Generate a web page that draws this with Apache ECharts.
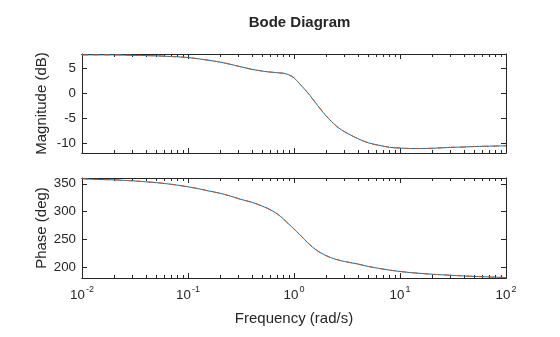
<!DOCTYPE html>
<html><head><meta charset="utf-8">
<script src="https://cdn.jsdelivr.net/npm/echarts@6/dist/echarts.min.js"></script>
<style>html,body{margin:0;padding:0;background:#fff}#c{width:560px;height:337px}</style>
</head><body><div id="c"></div>
<script>
// Frequency samples (rad/s)
const freq = [0.01,0.0126,0.0158,0.02,0.0251,0.0316,0.0398,0.0501,0.0631,0.0794,
  0.1,0.126,0.158,0.2,0.251,0.316,0.398,0.501,0.562,0.631,0.708,0.794,0.891,
  1,1.12,1.26,1.41,1.58,1.78,2.0,2.24,2.51,2.82,3.16,3.98,5.01,6.31,7.94,
  10,12.6,15.8,20,25.1,31.6,39.8,50.1,63.1,79.4,100];
// Magnitude (dB)
const magnitude = [7.7,7.7,7.7,7.7,7.65,7.6,7.55,7.5,7.4,7.3,
  7.15,6.9,6.6,6.25,5.8,5.3,4.8,4.45,4.3,4.2,4.1,4.0,3.7,
  3.1,2.0,0.8,-0.4,-1.8,-3.2,-4.5,-5.6,-6.6,-7.4,-8.0,-9.1,-9.95,-10.45,-10.85,
  -11.0,-11.1,-11.1,-11.05,-10.95,-10.85,-10.8,-10.7,-10.65,-10.6,-10.55];
// Phase (deg)
const phase = [359,358,357.5,357,356,355,353.5,352,350,347.5,
  344.5,341,337,333,328,322,317,310,306,301,295,287,278,
  269,260,250,241,233,226.5,221.5,217.5,214.5,212,210,206.4,202,198.5,195.5,
  193,191,189.5,188,187,186,185,184.2,183.5,182.8,182.2];
// Tick positions
const decadeTicks = [0.01,0.1,1,10,100];
const minorTicks = [];
[0.01,0.1,1,10].forEach(d => { for (let k = 2; k <= 9; k++) minorTicks.push(+(k*d).toPrecision(3)); });
const magTicks = [-10,-5,0,5];
const phaseTicks = [200,250,300,350];

const TXT = '#262626';
const FONT = 'Liberation Sans, Arial, sans-serif';
const magRange = [-12, 7.87];
const phaseRange = [181.3, 360.3];

function xAx(grid, pos, ticks, len, labels) {
  return {
    type: 'log', logBase: 10, gridIndex: grid, position: pos, min: 0.01, max: 100,
    axisLine: {show: true, onZero: false, lineStyle: {color: TXT, width: 1}},
    axisTick: {show: true, inside: true, length: len, customValues: ticks, lineStyle: {color: TXT, width: 1}},
    axisLabel: labels ? {
      show: true, customValues: decadeTicks, margin: 7, color: TXT, fontFamily: FONT,
      formatter: v => '{b|10}{s|' + Math.round(Math.log10(v)) + '}',
      rich: {b: {fontSize: 13.3, fontFamily: FONT, color: TXT, verticalAlign: 'bottom', lineHeight: 17},
             s: {fontSize: 9, fontFamily: FONT, color: TXT, verticalAlign: 'top', lineHeight: 17, padding: [0,0,0,1]}}
    } : {show: false},
    splitLine: {show: false}, minorTick: {show: false},
    name: labels ? 'Frequency (rad/s)' : '', nameLocation: 'middle', nameGap: 33, nameMoveOverlap: false,
    nameTextStyle: {fontSize: 15, color: TXT, fontFamily: FONT}
  };
}
function yAx(grid, pos, range, ticks, name) {
  const left = pos === 'left';
  return {
    type: 'value', gridIndex: grid, position: pos, min: range[0], max: range[1],
    axisLine: {show: true, onZero: false, lineStyle: {color: TXT, width: 1}},
    axisTick: {show: true, inside: true, length: 5, customValues: ticks, lineStyle: {color: TXT, width: 1}},
    axisLabel: left ? {show: true, customValues: ticks, fontSize: 13.3, color: TXT, fontFamily: FONT, margin: 6} : {show: false},
    splitLine: {show: false},
    name: left ? name : '', nameLocation: 'middle', nameGap: 33, nameMoveOverlap: false,
    nameTextStyle: {fontSize: 15, color: TXT, fontFamily: FONT}
  };
}

const magData = freq.map((f, i) => [f, magnitude[i]]);
const phaseData = freq.map((f, i) => [f, phase[i]]);

const chart = echarts.init(document.getElementById('c'), null, {renderer: 'canvas'});
chart.setOption({
  backgroundColor: '#fff',
  animation: false,
  title: {text: 'Bode Diagram', left: 294.5, top: 10, textAlign: 'center',
    textStyle: {fontSize: 15, fontWeight: 'bold', color: TXT, fontFamily: FONT}},
  grid: [
    {left: 82, top: 54, width: 424, height: 99, containLabel: false},
    {left: 82, top: 178, width: 424, height: 100, containLabel: false}
  ],
  xAxis: [
    xAx(0, 'bottom', decadeTicks, 5, false),
    xAx(0, 'bottom', minorTicks, 3, false),
    xAx(0, 'top', decadeTicks, 5, false),
    xAx(0, 'top', minorTicks, 3, false),
    xAx(1, 'bottom', decadeTicks, 5, true),
    xAx(1, 'bottom', minorTicks, 3, false),
    xAx(1, 'top', decadeTicks, 5, false),
    xAx(1, 'top', minorTicks, 3, false)
  ],
  yAxis: [
    yAx(0, 'left', magRange, magTicks, 'Magnitude (dB)'),
    yAx(0, 'right', magRange, magTicks, ''),
    yAx(1, 'left', phaseRange, phaseTicks, 'Phase (deg)'),
    yAx(1, 'right', phaseRange, phaseTicks, '')
  ],
  series: [
    {type: 'line', xAxisIndex: 0, yAxisIndex: 0, data: magData, showSymbol: false, smooth: 0.3,
     lineStyle: {color: '#0072BD', width: 1}},
    {type: 'line', xAxisIndex: 0, yAxisIndex: 0, data: magData, showSymbol: false, smooth: 0.3,
     lineStyle: {color: '#D95319', width: 1, type: [6, 5]}},
    {type: 'line', xAxisIndex: 4, yAxisIndex: 2, data: phaseData, showSymbol: false, smooth: 0.3,
     lineStyle: {color: '#0072BD', width: 1}},
    {type: 'line', xAxisIndex: 4, yAxisIndex: 2, data: phaseData, showSymbol: false, smooth: 0.3,
     lineStyle: {color: '#D95319', width: 1, type: [6, 5]}}
  ]
});
</script></body></html>
